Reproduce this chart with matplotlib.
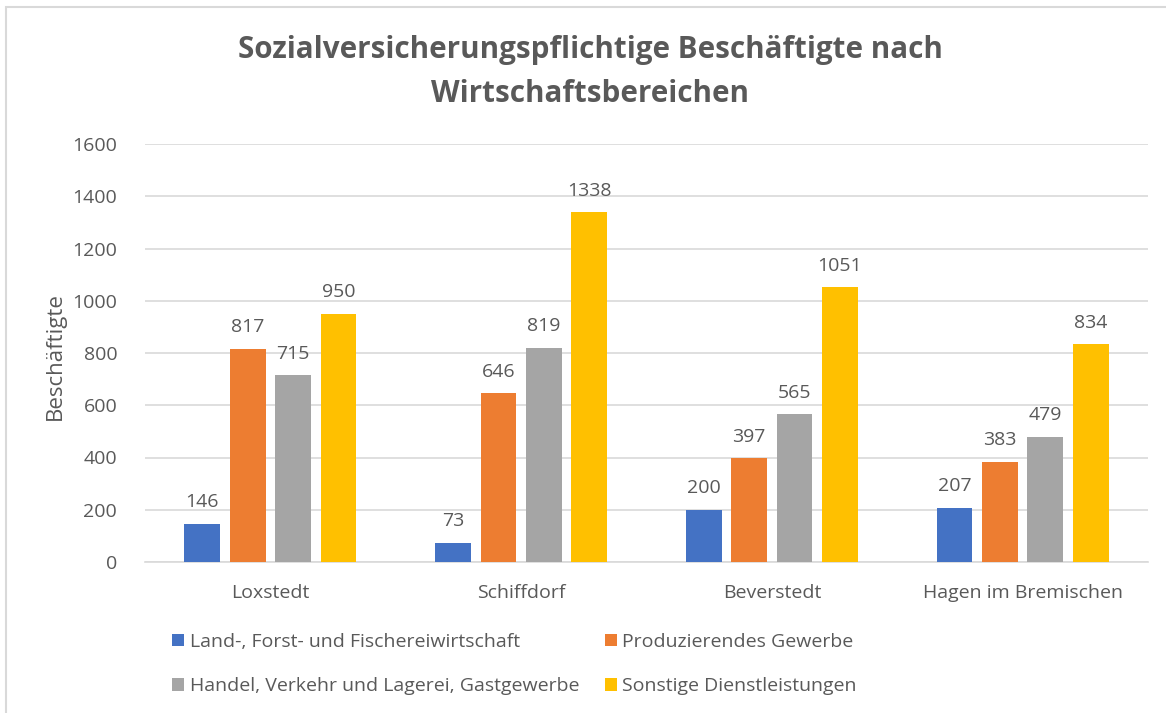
import matplotlib
matplotlib.use("Agg")
import matplotlib.pyplot as plt
import numpy as np
from matplotlib.patches import Rectangle

categories = ["Loxstedt", "Schiffdorf", "Beverstedt", "Hagen im Bremischen"]
series_names = ["Land-, Forst- und Fischereiwirtschaft", "Produzierendes Gewerbe",
                "Handel, Verkehr und Lagerei, Gastgewerbe", "Sonstige Dienstleistungen"]
land = [146, 73, 200, 207]
prod = [817, 646, 397, 383]
handel = [715, 819, 565, 479]
sonst = [950, 1338, 1051, 834]
colors = ["#4472C4", "#ED7D31", "#A5A5A5", "#FFC000"]
yticks = [0, 200, 400, 600, 800, 1000, 1200, 1400, 1600]

plt.rcParams['font.family'] = ['Open Sans', 'DejaVu Sans']
txt = "#595959"
fs = 14

W, H = 1166, 713
fig = plt.figure(figsize=(W/100, H/100), dpi=100)
ax = fig.add_axes([145/W, 1-562/H, (1148-145)/W, (562-144)/H])

fig.patches.append(Rectangle((6/W, -0.1), 1.2, 1-7/H+0.1, transform=fig.transFigure,
                             fill=False, edgecolor="#D9D9D9", linewidth=1.5))

x = np.arange(len(categories))
step = 0.181
bw = 0.143
data = [land, prod, handel, sonst]
handles = []
for i, (vals, c) in enumerate(zip(data, colors)):
    pos = x + (i - 1.5) * step
    b = ax.bar(pos, vals, width=bw, color=c, zorder=3, label=series_names[i])
    handles.append(b)
    for p, v in zip(pos, vals):
        ax.text(p, v + 48, str(v), ha="center", va="bottom", fontsize=fs, color=txt)

ax.set_xlim(-0.5, len(categories) - 0.5)
ax.set_ylim(0, 1600)
ax.set_yticks(yticks)
ax.set_yticklabels([str(t) for t in yticks], fontsize=fs, color=txt)
ax.set_xticks(x)
ax.set_xticklabels(categories, fontsize=fs, color=txt)
ax.tick_params(axis="both", length=0)
ax.tick_params(axis="y", pad=20)
ax.tick_params(axis="x", pad=16)
ax.grid(axis="y", color="#D9D9D9", linewidth=1.2, zorder=0)
for s in ["top", "right", "left"]:
    ax.spines[s].set_visible(False)
ax.spines["bottom"].set_color("#D9D9D9")
ax.spines["bottom"].set_linewidth(1.2)

fig.text(55/W, 1-356/H, "Beschäftigte", rotation=90, ha="center", va="center",
         fontsize=16, color=txt)

fig.text(590/W, 1-50/H, "Sozialversicherungspflichtige Beschäftigte nach",
         ha="center", va="center", fontsize=21.3, fontweight="bold", color=txt)
fig.text(590/W, 1-94/H, "Wirtschaftsbereichen",
         ha="center", va="center", fontsize=21.3, fontweight="bold", color=txt)

order = [0, 2, 1, 3]
leg = fig.legend([handles[i] for i in order], [series_names[i] for i in order],
                 ncol=2, loc="upper left", bbox_to_anchor=(172/W, 1-633/H),
                 frameon=False, fontsize=fs, handlelength=0.6, handleheight=0.6,
                 handletextpad=0.3, columnspacing=1.33, labelspacing=1.36,
                 borderpad=0, borderaxespad=0)
for t in leg.get_texts():
    t.set_color(txt)

fig.savefig("out.png", dpi=100)
